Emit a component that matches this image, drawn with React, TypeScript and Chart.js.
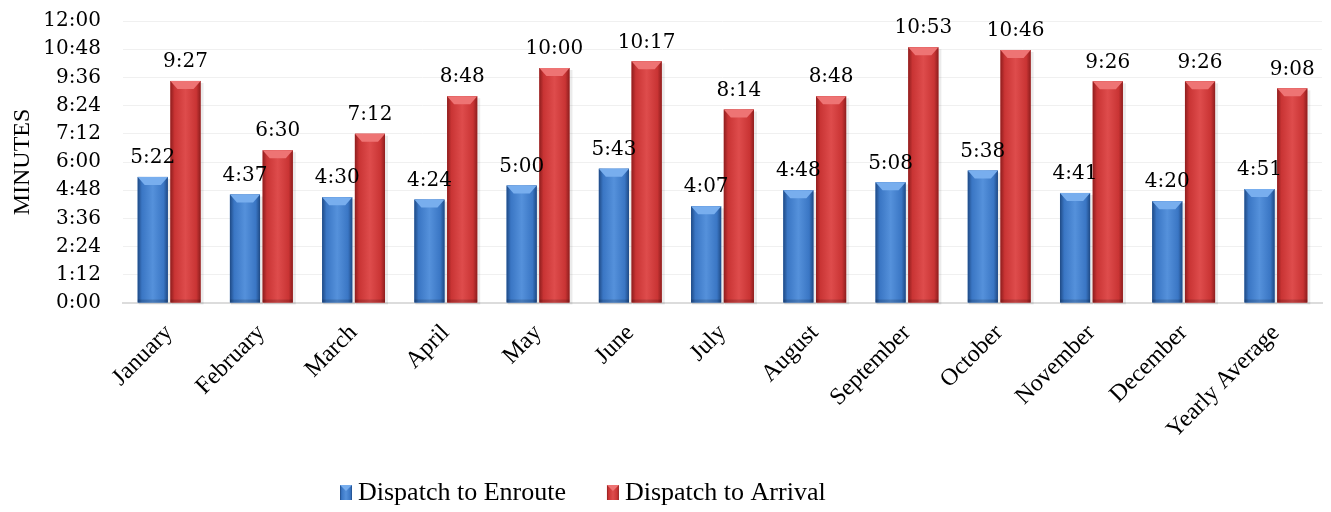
import { useEffect, useRef } from "react";
import { Chart, registerables } from "chart.js";

Chart.register(...registerables);

const categories = [
  "January", "February", "March", "April", "May", "June", "July",
  "August", "September", "October", "November", "December", "Yearly Average",
];
// values in seconds
const enrouteSeconds = [322, 277, 270, 264, 300, 343, 247, 288, 308, 338, 281, 260, 291];
const arrivalSeconds = [567, 390, 432, 528, 600, 617, 494, 528, 653, 646, 566, 566, 548];
const seriesNames = ["Dispatch to Enroute", "Dispatch to Arrival"];
const yAxisTitle = "MINUTES";
const yMax = 720;
const yStep = 72;

const palettes = [
  { dark: "#1f4a85", mid: "#3a76c4", light: "#5591db", top: "#78aeee", solid: "#3a76c4" },
  { dark: "#8f1e1e", mid: "#c93434", light: "#de4c4c", top: "#ee7474", solid: "#c93434" },
];

function fmt(s: number) {
  const m = Math.floor(s / 60);
  const sec = Math.round(s % 60);
  return `${m}:${String(sec).padStart(2, "0")}`;
}

function barGradient(ctx: CanvasRenderingContext2D, left: number, right: number, pal: any) {
  const g = ctx.createLinearGradient(left, 0, right, 0);
  g.addColorStop(0, pal.dark);
  g.addColorStop(0.14, pal.mid);
  g.addColorStop(0.5, pal.light);
  g.addColorStop(0.86, pal.mid);
  g.addColorStop(1, pal.dark);
  return g;
}

const bevelPlugin = {
  id: "bevelBars",
  afterDatasetsDraw(chart: any) {
    const ctx = chart.ctx;
    chart.data.datasets.forEach((_ds: any, di: number) => {
      const meta = chart.getDatasetMeta(di);
      const pal = palettes[di];
      meta.data.forEach((bar: any) => {
        const { x, y, base, width } = bar.getProps(["x", "y", "base", "width"], true);
        const left = x - width / 2;
        const right = x + width / 2;
        const h = base - y;
        ctx.save();
        ctx.fillStyle = "rgba(0,0,0,0.08)";
        ctx.fillRect(left + 1, y + 2, width + 2, h);
        ctx.fillStyle = barGradient(ctx, left, right, pal);
        ctx.fillRect(left, y, width, h);
        const bh = Math.min(8, h / 2);
        ctx.beginPath();
        ctx.moveTo(left, y);
        ctx.lineTo(right, y);
        ctx.lineTo(right - 7, y + bh);
        ctx.lineTo(left + 7, y + bh);
        ctx.closePath();
        ctx.fillStyle = pal.top;
        ctx.fill();
        ctx.fillStyle = "rgba(0,0,0,0.15)";
        ctx.fillRect(left, base - 3, width, 3);
        ctx.restore();
      });
    });
  },
};

const labelPlugin = {
  id: "valueLabels",
  afterDatasetsDraw(chart: any) {
    const ctx = chart.ctx;
    ctx.save();
    ctx.font = "20px 'DejaVu Serif'";
    ctx.fillStyle = "#000";
    ctx.textAlign = "center";
    ctx.textBaseline = "bottom";
    chart.data.datasets.forEach((ds: any, di: number) => {
      const meta = chart.getDatasetMeta(di);
      meta.data.forEach((bar: any, i: number) => {
        ctx.fillText(fmt(ds.data[i]), bar.x, bar.y - 9);
      });
    });
    ctx.restore();
  },
};

const legendPlugin = {
  id: "customLegend",
  afterDraw(chart: any) {
    const ctx = chart.ctx;
    ctx.save();
    ctx.font = "26px 'Liberation Serif'";
    ctx.textBaseline = "middle";
    ctx.textAlign = "left";
    let x = 340;
    const cy = 493;
    chart.data.datasets.forEach((ds: any, i: number) => {
      const pal = palettes[i];
      ctx.fillStyle = barGradient(ctx, x, x + 12, pal);
      ctx.fillRect(x, cy - 8, 12, 15);
      ctx.beginPath();
      ctx.moveTo(x, cy - 8);
      ctx.lineTo(x + 12, cy - 8);
      ctx.lineTo(x + 6, cy - 2);
      ctx.closePath();
      ctx.fillStyle = pal.top;
      ctx.fill();
      ctx.fillStyle = "#000";
      ctx.fillText(ds.label, x + 18, cy);
      x += 18 + ctx.measureText(ds.label).width + 41;
    });
    ctx.restore();
  },
};

export default function App() {
  const ref = useRef<HTMLCanvasElement | null>(null);
  useEffect(() => {
    if (!ref.current) return;
    const chart = new Chart(ref.current, {
      type: "bar",
      data: {
        labels: categories,
        datasets: [
          { label: seriesNames[0], data: enrouteSeconds, backgroundColor: palettes[0].solid },
          { label: seriesNames[1], data: arrivalSeconds, backgroundColor: palettes[1].solid },
        ],
      },
      options: {
        animation: false,
        responsive: false,
        layout: { padding: { left: 8, right: 9, top: 21, bottom: 0 } },
        datasets: { bar: { categoryPercentage: 0.71, barPercentage: 0.92 } },
        plugins: {
          tooltip: { enabled: false },
          legend: { display: false },
        },
        scales: {
          x: {
            grid: { display: false },
            border: { color: "#dcdcdc", width: 2 },
            ticks: {
              autoSkip: false,
              maxRotation: 45,
              minRotation: 45,
              color: "#000",
              padding: 8,
              font: { family: "'Liberation Serif'", size: 24 },
            },
            afterFit: (scale: any) => {
              scale.height = 209;
            },
          },
          y: {
            min: 0,
            max: yMax,
            grid: { color: "#f0f0f0", drawTicks: true, tickLength: 19, tickColor: "rgba(0,0,0,0)" },
            border: { display: false },
            ticks: {
              stepSize: yStep,
              autoSkip: false,
              padding: 3,
              color: "#000",
              font: { family: "'DejaVu Serif'", size: 20, lineHeight: 1 },
              callback: (v: any) => fmt(Number(v)),
            },
            title: {
              display: true,
              text: yAxisTitle,
              color: "#000",
              padding: 0,
              font: { family: "'Liberation Serif'", size: 24 },
            },
            afterFit: (scale: any) => {
              scale.width = 115;
            },
          },
        },
      },
      plugins: [bevelPlugin, labelPlugin, legendPlugin],
    } as any);
    return () => chart.destroy();
  }, []);
  return (
    <div style={{ position: "absolute", left: 0, top: 0, width: 1331, height: 512, background: "#fff" }}>
      <canvas ref={ref} width={1331} height={512} />
    </div>
  );
}
